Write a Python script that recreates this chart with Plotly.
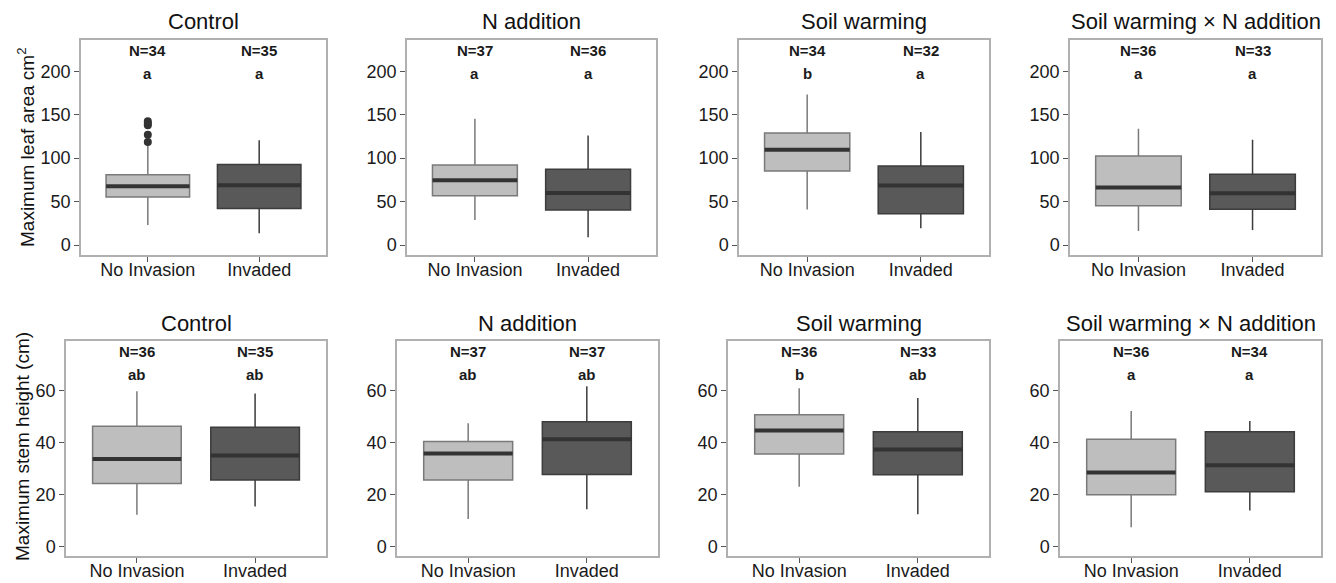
import plotly.graph_objects as go

# ---------------- data ----------------
treatments = ["Control", "N addition", "Soil warming", "Soil warming × N addition"]
groups = ["No Invasion", "Invaded"]

# Maximum leaf area (cm2): per treatment, [No Invasion, Invaded]
leaf_q1 = [[55.4, 42.1], [56.6, 40.2], [85.3, 35.9], [45.1, 41.3]]
leaf_med = [[67.7, 68.8], [74.6, 60.0], [109.8, 68.5], [66.2, 59.7]]
leaf_q3 = [[81.0, 92.6], [92.1, 87.2], [128.9, 91.0], [102.5, 81.5]]
leaf_lo = [[23.0, 13.4], [28.7, 8.8], [41.0, 19.2], [16.0, 17.2]]
leaf_hi = [[115.0, 120.5], [145.4, 126.2], [173.3, 130.0], [133.9, 121.3]]
leaf_n = [[34, 35], [37, 36], [34, 32], [36, 33]]
leaf_sig = [["a", "a"], ["a", "a"], ["b", "a"], ["a", "a"]]
leaf_outliers_control_noinv = [118.5, 127, 138, 140, 142.5]

# Maximum stem height (cm)
stem_q1 = [[24.3, 25.7], [25.7, 27.8], [35.6, 27.7], [20.0, 21.2]]
stem_med = [[33.7, 35.1], [35.8, 41.3], [44.7, 37.4], [28.5, 31.3]]
stem_q3 = [[46.3, 45.9], [40.4, 48.0], [50.7, 44.2], [41.3, 44.2]]
stem_lo = [[12.3, 15.5], [10.7, 14.4], [23.1, 12.5], [7.5, 14.0]]
stem_hi = [[59.7, 58.9], [47.4, 61.6], [60.9, 57.1], [52.1, 48.3]]
stem_n = [[36, 35], [37, 37], [36, 33], [36, 34]]
stem_sig = [["ab", "ab"], ["ab", "ab"], ["b", "ab"], ["a", "a"]]

leaf_ticks = [0, 50, 100, 150, 200]
stem_ticks = [0, 20, 40, 60]

# ---------------- styling ----------------
W, H = 1336, 583
FONT = "Liberation Sans, Arial, sans-serif"
fills = ["#bebebe", "#595959"]
edges = ["#7a7a7a", "#3c3c3c"]
median_col = "#333333"
BOXW = 0.75

# panel frames in pixels (left, right, top, bottom)
frames_top = [(81, 326), (407, 656), (739, 989), (1070, 1321)]
frames_bot = [(66, 326), (397, 658), (728, 989), (1060, 1321)]
row_y = [(40, 255), (341, 556)]

fig = go.Figure()
layout = dict(
    width=W, height=H, margin=dict(l=0, r=0, t=0, b=0),
    paper_bgcolor="white", plot_bgcolor="white", showlegend=False,
    font=dict(family=FONT, color="#1a1a1a"),
)
annotations = []

rows = [
    dict(q1=leaf_q1, med=leaf_med, q3=leaf_q3, lo=leaf_lo, hi=leaf_hi, n=leaf_n, sig=leaf_sig,
         ticks=leaf_ticks, rng=[-11.5, 236], frames=frames_top),
    dict(q1=stem_q1, med=stem_med, q3=stem_q3, lo=stem_lo, hi=stem_hi, n=stem_n, sig=stem_sig,
         ticks=stem_ticks, rng=[-3.5, 79], frames=frames_bot),
]

k = 0
for r, row in enumerate(rows):
    ytop, ybot = row_y[r]
    for c, tname in enumerate(treatments):
        k += 1
        xa = "x" if k == 1 else f"x{k}"
        ya = "y" if k == 1 else f"y{k}"
        xl, xr = row["frames"][c]
        layout["xaxis" if k == 1 else f"xaxis{k}"] = dict(
            domain=[xl / W, xr / W], anchor=ya, range=[0.4, 2.6],
            tickvals=[1, 2], ticktext=groups, showgrid=False, zeroline=False,
            showline=True, mirror=True, linecolor="#b0b0b0", linewidth=1.5,
            ticks="outside", ticklen=5, tickcolor="#555555", ticklabelstandoff=-7,
            tickfont=dict(size=18, family=FONT, color="#1a1a1a"), fixedrange=True,
        )
        layout["yaxis" if k == 1 else f"yaxis{k}"] = dict(
            domain=[1 - ybot / H, 1 - ytop / H], anchor=xa, range=row["rng"],
            tickvals=row["ticks"], showgrid=False, zeroline=False,
            showline=True, mirror=True, linecolor="#b0b0b0", linewidth=1.5,
            ticks="outside", ticklen=5, tickcolor="#555555",
            tickfont=dict(size=18, family=FONT, color="#1a1a1a"), fixedrange=True,
        )
        for g in range(2):
            xpos = g + 1
            fig.add_trace(go.Box(
                x=[xpos], q1=[row["q1"][c][g]], median=[row["med"][c][g]], q3=[row["q3"][c][g]],
                lowerfence=[row["lo"][c][g]], upperfence=[row["hi"][c][g]],
                width=BOXW, whiskerwidth=0, fillcolor=fills[g],
                line=dict(color=edges[g], width=1.5), boxpoints=False,
                xaxis=xa, yaxis=ya, hoverinfo="skip",
            ))
            fig.add_trace(go.Scatter(
                x=[xpos - BOXW / 2, xpos + BOXW / 2], y=[row["med"][c][g]] * 2,
                mode="lines", line=dict(color=median_col, width=4),
                xaxis=xa, yaxis=ya, hoverinfo="skip",
            ))
            annotations.append(dict(
                x=xpos, y=0.952, xref=xa, yref=f"{ya} domain", text=f"<b>N={row['n'][c][g]}</b>",
                showarrow=False, font=dict(size=15, family=FONT, color="#1a1a1a"),
                xanchor="center", yanchor="middle",
            ))
            annotations.append(dict(
                x=xpos, y=0.842, xref=xa, yref=f"{ya} domain", text=f"<b>{row['sig'][c][g]}</b>",
                showarrow=False, font=dict(size=15, family=FONT, color="#1a1a1a"),
                xanchor="center", yanchor="middle",
            ))
        if r == 0 and c == 0:
            fig.add_trace(go.Scatter(
                x=[1] * len(leaf_outliers_control_noinv), y=leaf_outliers_control_noinv,
                mode="markers", marker=dict(color="#333333", size=8),
                xaxis=xa, yaxis=ya, hoverinfo="skip",
            ))
        # panel title
        annotations.append(dict(
            x=(xl + xr) / 2 / W, y=1 - (ytop - 18) / H, xref="paper", yref="paper",
            text=tname, showarrow=False, font=dict(size=22, family=FONT, color="#111111"),
            xanchor="center", yanchor="middle",
        ))

annotations.append(dict(
    x=26 / W, y=1 - 147 / H, xref="paper", yref="paper", text="Maximum leaf area cm<sup>2</sup>",
    textangle=-90, showarrow=False, font=dict(size=19, family=FONT, color="#111111"),
    xanchor="center", yanchor="middle",
))
annotations.append(dict(
    x=22 / W, y=1 - 447 / H, xref="paper", yref="paper", text="Maximum stem height (cm)",
    textangle=-90, showarrow=False, font=dict(size=19, family=FONT, color="#111111"),
    xanchor="center", yanchor="middle",
))

layout["annotations"] = annotations
fig.update_layout(**layout)
fig.write_html("out.html", config={"displayModeBar": False},
               post_script="document.body.style.margin='0';document.body.style.overflow='hidden';")
